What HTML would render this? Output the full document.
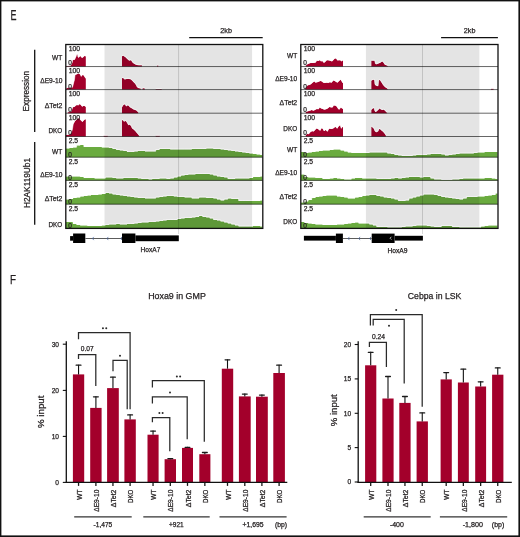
<!DOCTYPE html>
<html><head><meta charset="utf-8"><style>
html,body{margin:0;padding:0;background:#fff;}
body{width:520px;height:537px;overflow:hidden;}
svg{display:block;will-change:transform;}
text{font-family:"Liberation Sans",sans-serif;fill:#231f20;stroke:#231f20;stroke-width:0.25px;}
</style></head><body>
<svg width="520" height="537" viewBox="0 0 520 537">
<rect width="520" height="537" fill="#fff"/>
<path d="M66,66.55 L66,65.9 L70.5,65.8 L71.3,64.8 L72.3,62.5 L72.8,60 L74.8,59.8 L75.2,58.5 L76,57 L76.6,55 L77.1,54.3 L77.6,55 L78,57.3 L78.4,57.8 L79.4,57 L80.3,56 L81.2,57.2 L82.2,57.9 L83.5,57 L84.5,56 L85.5,56.3 L85.8,56.5 L85.8,66.55 Z" fill="#a3002b"/>
<path d="M122,66.55 L122,56.6 L122.4,56 L123.2,55.8 L124.3,56.6 L125.5,57.2 L126.6,58.4 L128.1,59.8 L129.2,60.7 L130.4,60.3 L131.5,60.7 L132.4,62.4 L133.8,63.6 L135.3,64.4 L136.7,65.1 L139,65.3 L141.9,65.3 L141.9,66.55 Z" fill="#a3002b"/>
<path d="M157,66.55 L157,65.6 L158.2,65.6 L158.2,66.55 Z" fill="#a3002b"/>
<path d="M66,89.6 L66,88.6 L68,87.8 L70,87.6 L72.5,87.6 L73.2,85 L74,81.8 L74.5,80 L75,75.6 L75.2,74.9 L77,74.2 L78.5,73.5 L79.8,74.2 L80.7,75.4 L81.2,76.8 L82.2,75.2 L83.3,75 L84.5,76.8 L85.4,78.2 L85.8,78.5 L85.8,89.6 Z" fill="#a3002b"/>
<path d="M122,89.6 L122,78.1 L123.5,78.3 L124.6,79.5 L125.8,79.2 L126.9,78.9 L128.7,78.9 L130.4,79.2 L131.5,80.1 L132.7,81.2 L133.8,82.4 L135,83.5 L136.2,85.3 L137,87 L137.9,87.9 L140.2,88.4 L140.8,88.8 L140.8,89.6 Z" fill="#a3002b"/>
<path d="M142.5,89.6 L142.5,88.6 L143.5,88.2 L144.8,88.6 L144.8,89.6 Z" fill="#a3002b"/>
<path d="M155.7,89.6 L155.7,89.1 L161.7,89.1 L161.7,89.6 Z" fill="#a3002b"/>
<path d="M67.8,113.2 L67.8,112.3 L71,112 L72,109.5 L72.9,107.2 L74.8,106.8 L75.9,105.6 L77.1,104.9 L78.2,105.6 L79.4,104.2 L80.3,104.4 L81.2,105.4 L82.2,106.8 L83.1,106.1 L84.5,106.1 L85.8,107 L85.8,113.2 Z" fill="#a3002b"/>
<path d="M122,113.2 L122,107.5 L122.6,106.1 L124,104.4 L125.2,104.6 L126.1,106.4 L127.5,105.5 L128.7,105.7 L129.8,107.3 L131.3,108.1 L132.7,109 L134.1,109.8 L135.3,110.1 L136.2,110.4 L137.3,111.3 L138.2,112.6 L138.2,113.2 Z" fill="#a3002b"/>
<path d="M66,136.5 L66,135 L70,134.8 L71.5,132.5 L72.5,129.2 L73.2,124.6 L74.1,122.8 L74.8,121.4 L75.7,120.5 L76.8,119.5 L77.5,118.6 L78.5,118.2 L79.4,118.4 L80.3,120 L81.5,120.9 L82.4,122.1 L83.3,120.9 L84.5,119.8 L85.8,119.3 L85.8,136.5 Z" fill="#a3002b"/>
<path d="M103.7,136.5 L103.7,135.8 L107.7,135.8 L107.7,136.5 Z" fill="#a3002b"/>
<path d="M122,136.5 L122,120 L123.2,120.6 L124,121.8 L125.2,120.9 L126.3,121.5 L127.5,123.5 L128.4,125.2 L129.5,124.7 L131,125.8 L132.1,128.4 L133.6,129.6 L135,130.7 L136.2,132.2 L137.3,133.6 L138.5,135 L139.3,136 L139.3,136.5 Z" fill="#a3002b"/>
<path d="M155.7,136.5 L155.7,135.8 L159.7,135.8 L159.7,136.5 Z" fill="#a3002b"/>
<path d="M65.8,157.2 L65.8,148.5 L69.4,148.5 L69.4,148 L73,148 L73,147.5 L76.6,147.5 L76.6,145.5 L80.2,145.5 L80.2,145 L83.8,145 L83.8,147 L87.4,147 L87.4,147 L91,147 L91,147 L94.6,147 L94.6,147 L98.2,147 L98.2,147 L101.8,147 L101.8,147.5 L105.4,147.5 L105.4,147.5 L109,147.5 L109,148 L112.6,148 L112.6,149 L116.2,149 L116.2,150 L119.8,150 L119.8,150.5 L123.4,150.5 L123.4,151 L127,151 L127,152 L130.6,152 L130.6,152 L134.2,152 L134.2,151.5 L137.8,151.5 L137.8,151 L141.4,151 L141.4,151 L145,151 L145,151.5 L148.6,151.5 L148.6,151.5 L152.2,151.5 L152.2,151.5 L155.8,151.5 L155.8,150 L159.4,150 L159.4,149 L163,149 L163,149 L166.6,149 L166.6,149 L170.2,149 L170.2,149.5 L173.8,149.5 L173.8,149.5 L177.4,149.5 L177.4,149.5 L181,149.5 L181,149.5 L184.6,149.5 L184.6,149.5 L188.2,149.5 L188.2,149.5 L191.8,149.5 L191.8,149 L195.4,149 L195.4,149 L199,149 L199,149 L202.6,149 L202.6,149 L206.2,149 L206.2,148.5 L209.8,148.5 L209.8,148.5 L213.4,148.5 L213.4,149 L217,149 L217,149 L220.6,149 L220.6,149.5 L224.2,149.5 L224.2,150 L227.8,150 L227.8,150.5 L231.4,150.5 L231.4,151 L235,151 L235,151.5 L238.6,151.5 L238.6,152 L242.2,152 L242.2,152.5 L245.8,152.5 L245.8,153 L249.4,153 L249.4,153.5 L253,153.5 L253,154 L256.6,154 L256.6,154.5 L260.2,154.5 L260.2,155 L262.2,155 L262.2,157.2 Z" fill="#6aab3f"/>
<path d="M65.8,180.4 L65.8,176.5 L69.4,176.5 L69.4,176.5 L73,176.5 L73,176.5 L76.6,176.5 L76.6,176.5 L80.2,176.5 L80.2,177 L83.8,177 L83.8,178 L87.4,178 L87.4,178 L91,178 L91,178 L94.6,178 L94.6,178.5 L98.2,178.5 L98.2,178.5 L101.8,178.5 L101.8,178.5 L105.4,178.5 L105.4,177.5 L109,177.5 L109,177.5 L112.6,177.5 L112.6,178 L116.2,178 L116.2,178.5 L119.8,178.5 L119.8,178.5 L123.4,178.5 L123.4,178 L127,178 L127,178 L130.6,178 L130.6,178 L134.2,178 L134.2,178 L137.8,178 L137.8,178.5 L141.4,178.5 L141.4,179 L145,179 L145,179 L148.6,179 L148.6,179.5 L152.2,179.5 L152.2,179 L155.8,179 L155.8,179 L159.4,179 L159.4,178.5 L163,178.5 L163,178.5 L166.6,178.5 L166.6,179 L170.2,179 L170.2,178.5 L173.8,178.5 L173.8,177.5 L177.4,177.5 L177.4,176.5 L181,176.5 L181,175.5 L184.6,175.5 L184.6,175 L188.2,175 L188.2,174.5 L191.8,174.5 L191.8,174.5 L195.4,174.5 L195.4,174 L199,174 L199,174 L202.6,174 L202.6,174 L206.2,174 L206.2,174 L209.8,174 L209.8,174.5 L213.4,174.5 L213.4,175.5 L217,175.5 L217,176.5 L220.6,176.5 L220.6,177 L224.2,177 L224.2,177.5 L227.8,177.5 L227.8,179 L231.4,179 L231.4,179 L235,179 L235,178.5 L238.6,178.5 L238.6,178.5 L242.2,178.5 L242.2,178.5 L245.8,178.5 L245.8,178.5 L249.4,178.5 L249.4,178 L253,178 L253,177 L256.6,177 L256.6,177 L260.2,177 L260.2,176.5 L262.2,176.5 L262.2,180.4 Z" fill="#6aab3f"/>
<path d="M65.8,204.2 L65.8,199.5 L69.4,199.5 L69.4,199 L73,199 L73,198 L76.6,198 L76.6,197.5 L80.2,197.5 L80.2,196.5 L83.8,196.5 L83.8,196 L87.4,196 L87.4,195.5 L91,195.5 L91,195 L94.6,195 L94.6,195 L98.2,195 L98.2,194.5 L101.8,194.5 L101.8,194 L105.4,194 L105.4,193 L109,193 L109,193.5 L112.6,193.5 L112.6,194.5 L116.2,194.5 L116.2,195 L119.8,195 L119.8,195.5 L123.4,195.5 L123.4,196 L127,196 L127,196.5 L130.6,196.5 L130.6,197 L134.2,197 L134.2,197.5 L137.8,197.5 L137.8,198 L141.4,198 L141.4,198 L145,198 L145,198.5 L148.6,198.5 L148.6,198.5 L152.2,198.5 L152.2,198.5 L155.8,198.5 L155.8,197.5 L159.4,197.5 L159.4,197 L163,197 L163,196.5 L166.6,196.5 L166.6,196 L170.2,196 L170.2,196 L173.8,196 L173.8,196.5 L177.4,196.5 L177.4,197 L181,197 L181,197 L184.6,197 L184.6,197.5 L188.2,197.5 L188.2,197.5 L191.8,197.5 L191.8,198.5 L195.4,198.5 L195.4,198.5 L199,198.5 L199,197.5 L202.6,197.5 L202.6,197.5 L206.2,197.5 L206.2,198 L209.8,198 L209.8,198 L213.4,198 L213.4,198.5 L217,198.5 L217,199.5 L220.6,199.5 L220.6,200.5 L224.2,200.5 L224.2,199.5 L227.8,199.5 L227.8,198.5 L231.4,198.5 L231.4,199 L235,199 L235,199 L238.6,199 L238.6,201 L242.2,201 L242.2,201 L245.8,201 L245.8,201 L249.4,201 L249.4,201 L253,201 L253,201 L256.6,201 L256.6,201 L260.2,201 L260.2,200.5 L262.2,200.5 L262.2,204.2 Z" fill="#6aab3f"/>
<path d="M65.8,228.4 L65.8,222 L69.4,222 L69.4,222 L73,222 L73,224 L76.6,224 L76.6,225 L80.2,225 L80.2,225.5 L83.8,225.5 L83.8,225.5 L87.4,225.5 L87.4,226 L91,226 L91,226 L94.6,226 L94.6,226 L98.2,226 L98.2,226 L101.8,226 L101.8,225.5 L105.4,225.5 L105.4,225 L109,225 L109,224.5 L112.6,224.5 L112.6,224.5 L116.2,224.5 L116.2,224 L119.8,224 L119.8,224.5 L123.4,224.5 L123.4,224.5 L127,224.5 L127,224 L130.6,224 L130.6,224 L134.2,224 L134.2,223.5 L137.8,223.5 L137.8,223 L141.4,223 L141.4,222.5 L145,222.5 L145,222.5 L148.6,222.5 L148.6,222 L152.2,222 L152.2,222 L155.8,222 L155.8,221.5 L159.4,221.5 L159.4,221 L163,221 L163,220.5 L166.6,220.5 L166.6,220 L170.2,220 L170.2,220 L173.8,220 L173.8,220 L177.4,220 L177.4,219 L181,219 L181,218.5 L184.6,218.5 L184.6,218 L188.2,218 L188.2,218 L191.8,218 L191.8,217.5 L195.4,217.5 L195.4,217 L199,217 L199,216 L202.6,216 L202.6,217 L206.2,217 L206.2,217.5 L209.8,217.5 L209.8,218.5 L213.4,218.5 L213.4,220 L217,220 L217,220.5 L220.6,220.5 L220.6,221.5 L224.2,221.5 L224.2,222.5 L227.8,222.5 L227.8,223.5 L231.4,223.5 L231.4,224.5 L235,224.5 L235,225.5 L238.6,225.5 L238.6,226.5 L242.2,226.5 L242.2,226.5 L245.8,226.5 L245.8,226.5 L249.4,226.5 L249.4,226.5 L253,226.5 L253,226 L256.6,226 L256.6,226 L260.2,226 L260.2,226.5 L262.2,226.5 L262.2,228.4 Z" fill="#6aab3f"/>
<rect x="104.5" y="44.5" width="147.6" height="183.9" fill="#000" fill-opacity="0.105"/>
<path d="M66,65.35 L70.5,65.25 L71.3,64.25 L72.3,61.95 L72.8,59.45 L74.8,59.25 L75.2,57.95 L76,56.45 L76.6,54.45 L77.1,53.75 L77.6,54.45 L78,56.75 L78.4,57.25 L79.4,56.45 L80.3,55.45 L81.2,56.65 L82.2,57.35 L83.5,56.45 L84.5,55.45 L85.5,55.75 L85.8,55.95" fill="none" stroke="#fff" stroke-opacity="0.55" stroke-width="1.0" stroke-linejoin="round"/>
<path d="M122,56.05 L122.4,55.45 L123.2,55.25 L124.3,56.05 L125.5,56.65 L126.6,57.85 L128.1,59.25 L129.2,60.15 L130.4,59.75 L131.5,60.15 L132.4,61.85 L133.8,63.05 L135.3,63.85 L136.7,64.55 L139,64.75 L141.9,64.75" fill="none" stroke="#fff" stroke-opacity="0.55" stroke-width="1.0" stroke-linejoin="round"/>
<path d="M157,65.05 L158.2,65.05" fill="none" stroke="#fff" stroke-opacity="0.55" stroke-width="1.0" stroke-linejoin="round"/>
<path d="M66,88.05 L68,87.25 L70,87.05 L72.5,87.05 L73.2,84.45 L74,81.25 L74.5,79.45 L75,75.05 L75.2,74.35 L77,73.65 L78.5,72.95 L79.8,73.65 L80.7,74.85 L81.2,76.25 L82.2,74.65 L83.3,74.45 L84.5,76.25 L85.4,77.65 L85.8,77.95" fill="none" stroke="#fff" stroke-opacity="0.55" stroke-width="1.0" stroke-linejoin="round"/>
<path d="M122,77.55 L123.5,77.75 L124.6,78.95 L125.8,78.65 L126.9,78.35 L128.7,78.35 L130.4,78.65 L131.5,79.55 L132.7,80.65 L133.8,81.85 L135,82.95 L136.2,84.75 L137,86.45 L137.9,87.35 L140.2,87.85 L140.8,88.25" fill="none" stroke="#fff" stroke-opacity="0.55" stroke-width="1.0" stroke-linejoin="round"/>
<path d="M142.5,88.05 L143.5,87.65 L144.8,88.05" fill="none" stroke="#fff" stroke-opacity="0.55" stroke-width="1.0" stroke-linejoin="round"/>
<path d="M155.7,88.55 L161.7,88.55" fill="none" stroke="#fff" stroke-opacity="0.55" stroke-width="1.0" stroke-linejoin="round"/>
<path d="M67.8,111.75 L71,111.45 L72,108.95 L72.9,106.65 L74.8,106.25 L75.9,105.05 L77.1,104.35 L78.2,105.05 L79.4,103.65 L80.3,103.85 L81.2,104.85 L82.2,106.25 L83.1,105.55 L84.5,105.55 L85.8,106.45" fill="none" stroke="#fff" stroke-opacity="0.55" stroke-width="1.0" stroke-linejoin="round"/>
<path d="M122,106.95 L122.6,105.55 L124,103.85 L125.2,104.05 L126.1,105.85 L127.5,104.95 L128.7,105.15 L129.8,106.75 L131.3,107.55 L132.7,108.45 L134.1,109.25 L135.3,109.55 L136.2,109.85 L137.3,110.75 L138.2,112.05" fill="none" stroke="#fff" stroke-opacity="0.55" stroke-width="1.0" stroke-linejoin="round"/>
<path d="M66,134.45 L70,134.25 L71.5,131.95 L72.5,128.65 L73.2,124.05 L74.1,122.25 L74.8,120.85 L75.7,119.95 L76.8,118.95 L77.5,118.05 L78.5,117.65 L79.4,117.85 L80.3,119.45 L81.5,120.35 L82.4,121.55 L83.3,120.35 L84.5,119.25 L85.8,118.75" fill="none" stroke="#fff" stroke-opacity="0.55" stroke-width="1.0" stroke-linejoin="round"/>
<path d="M103.7,135.25 L107.7,135.25" fill="none" stroke="#fff" stroke-opacity="0.55" stroke-width="1.0" stroke-linejoin="round"/>
<path d="M122,119.45 L123.2,120.05 L124,121.25 L125.2,120.35 L126.3,120.95 L127.5,122.95 L128.4,124.65 L129.5,124.15 L131,125.25 L132.1,127.85 L133.6,129.05 L135,130.15 L136.2,131.65 L137.3,133.05 L138.5,134.45 L139.3,135.45" fill="none" stroke="#fff" stroke-opacity="0.55" stroke-width="1.0" stroke-linejoin="round"/>
<path d="M155.7,135.25 L159.7,135.25" fill="none" stroke="#fff" stroke-opacity="0.55" stroke-width="1.0" stroke-linejoin="round"/>
<path d="M65.8,147.95 L69.4,147.95 L69.4,147.45 L73,147.45 L73,146.95 L76.6,146.95 L76.6,144.95 L80.2,144.95 L80.2,144.45 L83.8,144.45 L83.8,146.45 L87.4,146.45 L87.4,146.45 L91,146.45 L91,146.45 L94.6,146.45 L94.6,146.45 L98.2,146.45 L98.2,146.45 L101.8,146.45 L101.8,146.95 L105.4,146.95 L105.4,146.95 L109,146.95 L109,147.45 L112.6,147.45 L112.6,148.45 L116.2,148.45 L116.2,149.45 L119.8,149.45 L119.8,149.95 L123.4,149.95 L123.4,150.45 L127,150.45 L127,151.45 L130.6,151.45 L130.6,151.45 L134.2,151.45 L134.2,150.95 L137.8,150.95 L137.8,150.45 L141.4,150.45 L141.4,150.45 L145,150.45 L145,150.95 L148.6,150.95 L148.6,150.95 L152.2,150.95 L152.2,150.95 L155.8,150.95 L155.8,149.45 L159.4,149.45 L159.4,148.45 L163,148.45 L163,148.45 L166.6,148.45 L166.6,148.45 L170.2,148.45 L170.2,148.95 L173.8,148.95 L173.8,148.95 L177.4,148.95 L177.4,148.95 L181,148.95 L181,148.95 L184.6,148.95 L184.6,148.95 L188.2,148.95 L188.2,148.95 L191.8,148.95 L191.8,148.45 L195.4,148.45 L195.4,148.45 L199,148.45 L199,148.45 L202.6,148.45 L202.6,148.45 L206.2,148.45 L206.2,147.95 L209.8,147.95 L209.8,147.95 L213.4,147.95 L213.4,148.45 L217,148.45 L217,148.45 L220.6,148.45 L220.6,148.95 L224.2,148.95 L224.2,149.45 L227.8,149.45 L227.8,149.95 L231.4,149.95 L231.4,150.45 L235,150.45 L235,150.95 L238.6,150.95 L238.6,151.45 L242.2,151.45 L242.2,151.95 L245.8,151.95 L245.8,152.45 L249.4,152.45 L249.4,152.95 L253,152.95 L253,153.45 L256.6,153.45 L256.6,153.95 L260.2,153.95 L260.2,154.45 L262.2,154.45" fill="none" stroke="#fff" stroke-opacity="0.55" stroke-width="1.0" stroke-linejoin="round"/>
<path d="M65.8,175.95 L69.4,175.95 L69.4,175.95 L73,175.95 L73,175.95 L76.6,175.95 L76.6,175.95 L80.2,175.95 L80.2,176.45 L83.8,176.45 L83.8,177.45 L87.4,177.45 L87.4,177.45 L91,177.45 L91,177.45 L94.6,177.45 L94.6,177.95 L98.2,177.95 L98.2,177.95 L101.8,177.95 L101.8,177.95 L105.4,177.95 L105.4,176.95 L109,176.95 L109,176.95 L112.6,176.95 L112.6,177.45 L116.2,177.45 L116.2,177.95 L119.8,177.95 L119.8,177.95 L123.4,177.95 L123.4,177.45 L127,177.45 L127,177.45 L130.6,177.45 L130.6,177.45 L134.2,177.45 L134.2,177.45 L137.8,177.45 L137.8,177.95 L141.4,177.95 L141.4,178.45 L145,178.45 L145,178.45 L148.6,178.45 L148.6,178.95 L152.2,178.95 L152.2,178.45 L155.8,178.45 L155.8,178.45 L159.4,178.45 L159.4,177.95 L163,177.95 L163,177.95 L166.6,177.95 L166.6,178.45 L170.2,178.45 L170.2,177.95 L173.8,177.95 L173.8,176.95 L177.4,176.95 L177.4,175.95 L181,175.95 L181,174.95 L184.6,174.95 L184.6,174.45 L188.2,174.45 L188.2,173.95 L191.8,173.95 L191.8,173.95 L195.4,173.95 L195.4,173.45 L199,173.45 L199,173.45 L202.6,173.45 L202.6,173.45 L206.2,173.45 L206.2,173.45 L209.8,173.45 L209.8,173.95 L213.4,173.95 L213.4,174.95 L217,174.95 L217,175.95 L220.6,175.95 L220.6,176.45 L224.2,176.45 L224.2,176.95 L227.8,176.95 L227.8,178.45 L231.4,178.45 L231.4,178.45 L235,178.45 L235,177.95 L238.6,177.95 L238.6,177.95 L242.2,177.95 L242.2,177.95 L245.8,177.95 L245.8,177.95 L249.4,177.95 L249.4,177.45 L253,177.45 L253,176.45 L256.6,176.45 L256.6,176.45 L260.2,176.45 L260.2,175.95 L262.2,175.95" fill="none" stroke="#fff" stroke-opacity="0.55" stroke-width="1.0" stroke-linejoin="round"/>
<path d="M65.8,198.95 L69.4,198.95 L69.4,198.45 L73,198.45 L73,197.45 L76.6,197.45 L76.6,196.95 L80.2,196.95 L80.2,195.95 L83.8,195.95 L83.8,195.45 L87.4,195.45 L87.4,194.95 L91,194.95 L91,194.45 L94.6,194.45 L94.6,194.45 L98.2,194.45 L98.2,193.95 L101.8,193.95 L101.8,193.45 L105.4,193.45 L105.4,192.45 L109,192.45 L109,192.95 L112.6,192.95 L112.6,193.95 L116.2,193.95 L116.2,194.45 L119.8,194.45 L119.8,194.95 L123.4,194.95 L123.4,195.45 L127,195.45 L127,195.95 L130.6,195.95 L130.6,196.45 L134.2,196.45 L134.2,196.95 L137.8,196.95 L137.8,197.45 L141.4,197.45 L141.4,197.45 L145,197.45 L145,197.95 L148.6,197.95 L148.6,197.95 L152.2,197.95 L152.2,197.95 L155.8,197.95 L155.8,196.95 L159.4,196.95 L159.4,196.45 L163,196.45 L163,195.95 L166.6,195.95 L166.6,195.45 L170.2,195.45 L170.2,195.45 L173.8,195.45 L173.8,195.95 L177.4,195.95 L177.4,196.45 L181,196.45 L181,196.45 L184.6,196.45 L184.6,196.95 L188.2,196.95 L188.2,196.95 L191.8,196.95 L191.8,197.95 L195.4,197.95 L195.4,197.95 L199,197.95 L199,196.95 L202.6,196.95 L202.6,196.95 L206.2,196.95 L206.2,197.45 L209.8,197.45 L209.8,197.45 L213.4,197.45 L213.4,197.95 L217,197.95 L217,198.95 L220.6,198.95 L220.6,199.95 L224.2,199.95 L224.2,198.95 L227.8,198.95 L227.8,197.95 L231.4,197.95 L231.4,198.45 L235,198.45 L235,198.45 L238.6,198.45 L238.6,200.45 L242.2,200.45 L242.2,200.45 L245.8,200.45 L245.8,200.45 L249.4,200.45 L249.4,200.45 L253,200.45 L253,200.45 L256.6,200.45 L256.6,200.45 L260.2,200.45 L260.2,199.95 L262.2,199.95" fill="none" stroke="#fff" stroke-opacity="0.55" stroke-width="1.0" stroke-linejoin="round"/>
<path d="M65.8,221.45 L69.4,221.45 L69.4,221.45 L73,221.45 L73,223.45 L76.6,223.45 L76.6,224.45 L80.2,224.45 L80.2,224.95 L83.8,224.95 L83.8,224.95 L87.4,224.95 L87.4,225.45 L91,225.45 L91,225.45 L94.6,225.45 L94.6,225.45 L98.2,225.45 L98.2,225.45 L101.8,225.45 L101.8,224.95 L105.4,224.95 L105.4,224.45 L109,224.45 L109,223.95 L112.6,223.95 L112.6,223.95 L116.2,223.95 L116.2,223.45 L119.8,223.45 L119.8,223.95 L123.4,223.95 L123.4,223.95 L127,223.95 L127,223.45 L130.6,223.45 L130.6,223.45 L134.2,223.45 L134.2,222.95 L137.8,222.95 L137.8,222.45 L141.4,222.45 L141.4,221.95 L145,221.95 L145,221.95 L148.6,221.95 L148.6,221.45 L152.2,221.45 L152.2,221.45 L155.8,221.45 L155.8,220.95 L159.4,220.95 L159.4,220.45 L163,220.45 L163,219.95 L166.6,219.95 L166.6,219.45 L170.2,219.45 L170.2,219.45 L173.8,219.45 L173.8,219.45 L177.4,219.45 L177.4,218.45 L181,218.45 L181,217.95 L184.6,217.95 L184.6,217.45 L188.2,217.45 L188.2,217.45 L191.8,217.45 L191.8,216.95 L195.4,216.95 L195.4,216.45 L199,216.45 L199,215.45 L202.6,215.45 L202.6,216.45 L206.2,216.45 L206.2,216.95 L209.8,216.95 L209.8,217.95 L213.4,217.95 L213.4,219.45 L217,219.45 L217,219.95 L220.6,219.95 L220.6,220.95 L224.2,220.95 L224.2,221.95 L227.8,221.95 L227.8,222.95 L231.4,222.95 L231.4,223.95 L235,223.95 L235,224.95 L238.6,224.95 L238.6,225.95 L242.2,225.95 L242.2,225.95 L245.8,225.95 L245.8,225.95 L249.4,225.95 L249.4,225.95 L253,225.95 L253,225.45 L256.6,225.45 L256.6,225.45 L260.2,225.45 L260.2,225.95 L262.2,225.95" fill="none" stroke="#fff" stroke-opacity="0.55" stroke-width="1.0" stroke-linejoin="round"/>
<line x1="178.6" y1="44.5" x2="178.6" y2="234" stroke="#000" stroke-width="1" stroke-opacity="0.15"/>
<line x1="65.8" y1="66.55" x2="262.8" y2="66.55" stroke="#000" stroke-width="1" stroke-opacity="0.6"/>
<line x1="65.8" y1="89.6" x2="262.8" y2="89.6" stroke="#000" stroke-width="1" stroke-opacity="0.6"/>
<line x1="65.8" y1="113.2" x2="262.8" y2="113.2" stroke="#000" stroke-width="1" stroke-opacity="0.6"/>
<line x1="65.8" y1="136.5" x2="262.8" y2="136.5" stroke="#000" stroke-width="1" stroke-opacity="0.6"/>
<line x1="65.8" y1="157.2" x2="262.8" y2="157.2" stroke="#000" stroke-width="1" stroke-opacity="0.6"/>
<line x1="65.8" y1="180.4" x2="262.8" y2="180.4" stroke="#000" stroke-width="1" stroke-opacity="0.6"/>
<line x1="65.8" y1="204.2" x2="262.8" y2="204.2" stroke="#000" stroke-width="1" stroke-opacity="0.6"/>
<rect x="65.8" y="44.5" width="197" height="183.9" fill="none" stroke="#111" stroke-width="1.3"/>
<text x="68.7" y="50.8" font-size="6.5" textLength="11.4" lengthAdjust="spacingAndGlyphs">100</text>
<text x="68.3" y="65.45" font-size="6.5">0</text>
<text x="68.7" y="72.85" font-size="6.5" textLength="11.4" lengthAdjust="spacingAndGlyphs">100</text>
<text x="68.3" y="88.5" font-size="6.5">0</text>
<text x="68.7" y="95.9" font-size="6.5" textLength="11.4" lengthAdjust="spacingAndGlyphs">100</text>
<text x="68.3" y="112.1" font-size="6.5">0</text>
<text x="68.7" y="119.5" font-size="6.5" textLength="11.4" lengthAdjust="spacingAndGlyphs">100</text>
<text x="68.3" y="135.4" font-size="6.5">0</text>
<text x="68.7" y="142.8" font-size="6.5" textLength="9.4" lengthAdjust="spacingAndGlyphs">2.5</text>
<text x="68.3" y="157" font-size="6.5">0</text>
<text x="68.7" y="163.5" font-size="6.5" textLength="9.4" lengthAdjust="spacingAndGlyphs">2.5</text>
<text x="68.3" y="180.2" font-size="6.5">0</text>
<text x="68.7" y="186.7" font-size="6.5" textLength="9.4" lengthAdjust="spacingAndGlyphs">2.5</text>
<text x="68.3" y="204" font-size="6.5">0</text>
<text x="68.7" y="210.5" font-size="6.5" textLength="9.4" lengthAdjust="spacingAndGlyphs">2.5</text>
<text x="68.3" y="228.2" font-size="6.5">0</text>
<text x="62.3" y="60.1" font-size="6.7" text-anchor="end" textLength="10.2" lengthAdjust="spacingAndGlyphs">WT</text>
<text x="62.3" y="82.8" font-size="6.7" text-anchor="end" textLength="22" lengthAdjust="spacingAndGlyphs">&#916;E9-10</text>
<text x="62.3" y="107.6" font-size="6.7" text-anchor="end" textLength="17.6" lengthAdjust="spacingAndGlyphs">&#916;Tet2</text>
<text x="62.3" y="132.7" font-size="6.7" text-anchor="end" textLength="13.9" lengthAdjust="spacingAndGlyphs">DKO</text>
<text x="62.3" y="153.7" font-size="6.7" text-anchor="end" textLength="10.2" lengthAdjust="spacingAndGlyphs">WT</text>
<text x="62.3" y="176.9" font-size="6.7" text-anchor="end" textLength="22" lengthAdjust="spacingAndGlyphs">&#916;E9-10</text>
<text x="62.3" y="201.2" font-size="6.7" text-anchor="end" textLength="17.6" lengthAdjust="spacingAndGlyphs">&#916;Tet2</text>
<text x="62.3" y="226.6" font-size="6.7" text-anchor="end" textLength="13.9" lengthAdjust="spacingAndGlyphs">DKO</text>
<path d="M305.8,66.55 L305.8,65.7 L307.1,64.4 L308.8,63.7 L310.5,63.1 L313,62.9 L315.5,62.7 L316.8,60.8 L318.5,61 L319.8,60.2 L321,61.4 L322.3,61 L323.6,62.7 L324.8,62.5 L326.5,60.6 L327.8,60.2 L329,60.6 L330.8,61 L332,61.4 L333.3,60.2 L334.6,58.7 L335.8,58.5 L336.7,59.3 L337.5,60.6 L339.2,60.2 L340.5,60.6 L341.8,61.4 L342.6,60.6 L343,60.6 L343,66.55 Z" fill="#a3002b"/>
<path d="M371.4,66.55 L371.4,60.7 L374.7,60.7 L375.4,64.1 L376.7,64.3 L378.7,63.4 L380.4,62.7 L382.1,61.4 L383.4,62.4 L384.8,64.7 L386.8,65.4 L387.8,66 L387.8,66.55 Z" fill="#a3002b"/>
<path d="M305.4,89.6 L305.4,88.2 L306.7,86.5 L307.9,85.2 L309.6,85.1 L311.3,84 L312.6,82.7 L314.3,81.4 L315.5,82.7 L317.2,82.3 L318.9,81.8 L320.2,81 L321.9,81.4 L323.2,82.7 L324.8,83.1 L327,82.7 L328.2,83.1 L329.9,82.3 L331.6,82.7 L333.3,80.6 L334.6,81 L335.8,81.8 L337.5,82.7 L339.2,81 L340.5,79.7 L341.8,81.4 L342.6,83.1 L343,83.1 L343,89.6 Z" fill="#a3002b"/>
<path d="M371.4,89.6 L371.4,80.8 L373,79.8 L374.4,80.1 L375,84.9 L376.7,85.9 L378.1,86.2 L378.7,80.8 L379.7,79.8 L381.4,82.2 L383.1,84.9 L384.8,86.9 L386.8,88.2 L387.8,89.2 L387.8,89.6 Z" fill="#a3002b"/>
<path d="M491,89.6 L491,88.8 L493.5,88.8 L493.5,89.6 Z" fill="#a3002b"/>
<path d="M305.8,113.2 L305.8,112.2 L307.9,111.3 L310,110.8 L311.7,110.1 L313.4,110.8 L315.1,109.9 L316.8,109.1 L318.5,109.3 L319.8,107.5 L321,108.4 L322.7,109.1 L324.4,109.7 L326.1,109.3 L327.8,108.4 L329.5,107.1 L331.2,107.5 L332.5,107.5 L333.7,105.4 L335.4,105.8 L336.7,106.5 L338,108.8 L339.2,109.7 L340.9,107.5 L342.2,108.8 L343,108.8 L343,113.2 Z" fill="#a3002b"/>
<path d="M371.4,113.2 L371.4,110.1 L372.7,108.4 L374,108.1 L374.7,110.7 L375.4,112.1 L376.7,111.4 L378.7,109.4 L379.7,108.4 L380.8,109.4 L382.1,110.1 L383.8,109.7 L385.1,110.7 L386.1,112.1 L387.1,112.8 L387.1,113.2 Z" fill="#a3002b"/>
<path d="M305.8,136.5 L305.8,135.5 L307.1,133.8 L308.8,134.2 L310.5,132.1 L312.2,131.2 L313.8,131.6 L315.5,129.5 L316.8,128.5 L318.5,129.5 L320.2,130.8 L321.5,128.3 L322.7,128.7 L324,131.2 L325.7,130 L327.4,131.7 L329.1,128.7 L331.2,129.1 L332.9,128.7 L334.6,127.4 L335.8,127 L337.1,128.7 L338.8,126.2 L340.1,125.3 L341.3,128.7 L342.4,127 L343,127 L343,136.5 Z" fill="#a3002b"/>
<path d="M371.4,136.5 L371.4,126.8 L372.7,127.5 L374,128.9 L375,131.5 L376.4,132.2 L378.1,131.5 L379.1,128.9 L380.1,129.3 L381.4,130.5 L382.8,131.5 L384.1,132.9 L385.1,134.2 L385.8,135.5 L385.8,136.5 Z" fill="#a3002b"/>
<path d="M301,157.2 L301,152 L304.6,152 L304.6,153 L308.2,153 L308.2,152.5 L311.8,152.5 L311.8,152 L315.4,152 L315.4,151.5 L319,151.5 L319,151 L322.6,151 L322.6,150.5 L326.2,150.5 L326.2,150.5 L329.8,150.5 L329.8,150 L333.4,150 L333.4,149.5 L337,149.5 L337,149.5 L340.6,149.5 L340.6,150.5 L344.2,150.5 L344.2,151.5 L347.8,151.5 L347.8,152.5 L351.4,152.5 L351.4,153 L355,153 L355,153 L358.6,153 L358.6,153 L362.2,153 L362.2,153 L365.8,153 L365.8,153 L369.4,153 L369.4,152.5 L373,152.5 L373,152.5 L376.6,152.5 L376.6,152.5 L380.2,152.5 L380.2,152.5 L383.8,152.5 L383.8,152.5 L387.4,152.5 L387.4,153.5 L391,153.5 L391,154 L394.6,154 L394.6,155 L398.2,155 L398.2,155.5 L401.8,155.5 L401.8,156 L405.4,156 L405.4,156 L409,156 L409,156 L412.6,156 L412.6,155.5 L416.2,155.5 L416.2,155 L419.8,155 L419.8,155 L423.4,155 L423.4,155 L427,155 L427,154.5 L430.6,154.5 L430.6,154 L434.2,154 L434.2,154 L437.8,154 L437.8,154 L441.4,154 L441.4,154.5 L445,154.5 L445,155.5 L448.6,155.5 L448.6,155 L452.2,155 L452.2,154.5 L455.8,154.5 L455.8,154 L459.4,154 L459.4,153.5 L463,153.5 L463,153.5 L466.6,153.5 L466.6,153.5 L470.2,153.5 L470.2,153.5 L473.8,153.5 L473.8,153 L477.4,153 L477.4,152.5 L481,152.5 L481,152.5 L484.6,152.5 L484.6,152 L488.2,152 L488.2,152 L491.8,152 L491.8,152 L495.4,152 L495.4,152 L497.6,152 L497.6,157.2 Z" fill="#6aab3f"/>
<path d="M301,180.4 L301,174.5 L304.6,174.5 L304.6,177 L308.2,177 L308.2,177.5 L311.8,177.5 L311.8,177.5 L315.4,177.5 L315.4,178 L319,178 L319,178 L322.6,178 L322.6,179 L326.2,179 L326.2,179 L329.8,179 L329.8,178.5 L333.4,178.5 L333.4,178 L337,178 L337,178.5 L340.6,178.5 L340.6,179 L344.2,179 L344.2,179.5 L347.8,179.5 L347.8,179.5 L351.4,179.5 L351.4,178.5 L355,178.5 L355,178 L358.6,178 L358.6,178 L362.2,178 L362.2,178.5 L365.8,178.5 L365.8,178.5 L369.4,178.5 L369.4,178.5 L373,178.5 L373,178.5 L376.6,178.5 L376.6,179 L380.2,179 L380.2,179 L383.8,179 L383.8,179 L387.4,179 L387.4,179 L391,179 L391,178.5 L394.6,178.5 L394.6,178 L398.2,178 L398.2,178.5 L401.8,178.5 L401.8,178 L405.4,178 L405.4,177.5 L409,177.5 L409,177 L412.6,177 L412.6,177 L416.2,177 L416.2,177 L419.8,177 L419.8,177.5 L423.4,177.5 L423.4,177 L427,177 L427,177 L430.6,177 L430.6,178.5 L434.2,178.5 L434.2,179.5 L437.8,179.5 L437.8,179.5 L441.4,179.5 L441.4,180 L445,180 L445,180 L448.6,180 L448.6,180 L452.2,180 L452.2,179.5 L455.8,179.5 L455.8,179.5 L459.4,179.5 L459.4,179 L463,179 L463,178.5 L466.6,178.5 L466.6,178.5 L470.2,178.5 L470.2,178.5 L473.8,178.5 L473.8,178.5 L477.4,178.5 L477.4,178.5 L481,178.5 L481,178.5 L484.6,178.5 L484.6,178 L488.2,178 L488.2,178 L491.8,178 L491.8,178.5 L495.4,178.5 L495.4,179 L497.6,179 L497.6,180.4 Z" fill="#6aab3f"/>
<path d="M301,204.2 L301,202.5 L304.6,202.5 L304.6,201.5 L308.2,201.5 L308.2,200 L311.8,200 L311.8,198 L315.4,198 L315.4,197 L319,197 L319,196.5 L322.6,196.5 L322.6,196 L326.2,196 L326.2,195.5 L329.8,195.5 L329.8,195.5 L333.4,195.5 L333.4,195.5 L337,195.5 L337,196.5 L340.6,196.5 L340.6,197 L344.2,197 L344.2,197.5 L347.8,197.5 L347.8,198.5 L351.4,198.5 L351.4,198.5 L355,198.5 L355,197.5 L358.6,197.5 L358.6,197 L362.2,197 L362.2,196 L365.8,196 L365.8,195.5 L369.4,195.5 L369.4,195 L373,195 L373,195 L376.6,195 L376.6,196 L380.2,196 L380.2,196.5 L383.8,196.5 L383.8,197.5 L387.4,197.5 L387.4,198 L391,198 L391,198.5 L394.6,198.5 L394.6,199.5 L398.2,199.5 L398.2,201 L401.8,201 L401.8,201 L405.4,201 L405.4,200.5 L409,200.5 L409,198.5 L412.6,198.5 L412.6,197.5 L416.2,197.5 L416.2,196.5 L419.8,196.5 L419.8,195.5 L423.4,195.5 L423.4,194.5 L427,194.5 L427,194.5 L430.6,194.5 L430.6,194.5 L434.2,194.5 L434.2,195 L437.8,195 L437.8,196 L441.4,196 L441.4,197 L445,197 L445,197.5 L448.6,197.5 L448.6,198 L452.2,198 L452.2,198.5 L455.8,198.5 L455.8,199 L459.4,199 L459.4,199.5 L463,199.5 L463,198.5 L466.6,198.5 L466.6,197 L470.2,197 L470.2,197 L473.8,197 L473.8,197 L477.4,197 L477.4,196.5 L481,196.5 L481,196.5 L484.6,196.5 L484.6,196 L488.2,196 L488.2,195.5 L491.8,195.5 L491.8,195 L495.4,195 L495.4,193.5 L497.6,193.5 L497.6,204.2 Z" fill="#6aab3f"/>
<path d="M301,228.4 L301,222 L304.6,222 L304.6,223 L308.2,223 L308.2,223.5 L311.8,223.5 L311.8,224 L315.4,224 L315.4,224.5 L319,224.5 L319,224.5 L322.6,224.5 L322.6,225 L326.2,225 L326.2,225 L329.8,225 L329.8,225 L333.4,225 L333.4,225 L337,225 L337,224.5 L340.6,224.5 L340.6,224.5 L344.2,224.5 L344.2,224 L347.8,224 L347.8,223.5 L351.4,223.5 L351.4,223 L355,223 L355,222.5 L358.6,222.5 L358.6,223.5 L362.2,223.5 L362.2,223.5 L365.8,223.5 L365.8,223.5 L369.4,223.5 L369.4,224.5 L373,224.5 L373,225.5 L376.6,225.5 L376.6,227 L380.2,227 L380.2,227 L383.8,227 L383.8,227 L387.4,227 L387.4,227.5 L391,227.5 L391,227.5 L394.6,227.5 L394.6,227.5 L398.2,227.5 L398.2,227.5 L401.8,227.5 L401.8,227 L405.4,227 L405.4,226.5 L409,226.5 L409,226.5 L412.6,226.5 L412.6,226 L416.2,226 L416.2,225.5 L419.8,225.5 L419.8,225.5 L423.4,225.5 L423.4,225.5 L427,225.5 L427,226 L430.6,226 L430.6,226.5 L434.2,226.5 L434.2,227 L437.8,227 L437.8,227 L441.4,227 L441.4,226 L445,226 L445,226 L448.6,226 L448.6,226 L452.2,226 L452.2,227 L455.8,227 L455.8,227 L459.4,227 L459.4,227.5 L463,227.5 L463,227.5 L466.6,227.5 L466.6,227.5 L470.2,227.5 L470.2,227.5 L473.8,227.5 L473.8,227.5 L477.4,227.5 L477.4,227.5 L481,227.5 L481,226.5 L484.6,226.5 L484.6,226 L488.2,226 L488.2,225.5 L491.8,225.5 L491.8,225.5 L495.4,225.5 L495.4,225.5 L497.6,225.5 L497.6,228.4 Z" fill="#6aab3f"/>
<rect x="365.9" y="44.5" width="113.5" height="183.9" fill="#000" fill-opacity="0.105"/>
<path d="M305.8,65.15 L307.1,63.85 L308.8,63.15 L310.5,62.55 L313,62.35 L315.5,62.15 L316.8,60.25 L318.5,60.45 L319.8,59.65 L321,60.85 L322.3,60.45 L323.6,62.15 L324.8,61.95 L326.5,60.05 L327.8,59.65 L329,60.05 L330.8,60.45 L332,60.85 L333.3,59.65 L334.6,58.15 L335.8,57.95 L336.7,58.75 L337.5,60.05 L339.2,59.65 L340.5,60.05 L341.8,60.85 L342.6,60.05 L343,60.05" fill="none" stroke="#fff" stroke-opacity="0.55" stroke-width="1.0" stroke-linejoin="round"/>
<path d="M371.4,60.15 L374.7,60.15 L375.4,63.55 L376.7,63.75 L378.7,62.85 L380.4,62.15 L382.1,60.85 L383.4,61.85 L384.8,64.15 L386.8,64.85 L387.8,65.45" fill="none" stroke="#fff" stroke-opacity="0.55" stroke-width="1.0" stroke-linejoin="round"/>
<path d="M305.4,87.65 L306.7,85.95 L307.9,84.65 L309.6,84.55 L311.3,83.45 L312.6,82.15 L314.3,80.85 L315.5,82.15 L317.2,81.75 L318.9,81.25 L320.2,80.45 L321.9,80.85 L323.2,82.15 L324.8,82.55 L327,82.15 L328.2,82.55 L329.9,81.75 L331.6,82.15 L333.3,80.05 L334.6,80.45 L335.8,81.25 L337.5,82.15 L339.2,80.45 L340.5,79.15 L341.8,80.85 L342.6,82.55 L343,82.55" fill="none" stroke="#fff" stroke-opacity="0.55" stroke-width="1.0" stroke-linejoin="round"/>
<path d="M371.4,80.25 L373,79.25 L374.4,79.55 L375,84.35 L376.7,85.35 L378.1,85.65 L378.7,80.25 L379.7,79.25 L381.4,81.65 L383.1,84.35 L384.8,86.35 L386.8,87.65 L387.8,88.65" fill="none" stroke="#fff" stroke-opacity="0.55" stroke-width="1.0" stroke-linejoin="round"/>
<path d="M491,88.25 L493.5,88.25" fill="none" stroke="#fff" stroke-opacity="0.55" stroke-width="1.0" stroke-linejoin="round"/>
<path d="M305.8,111.65 L307.9,110.75 L310,110.25 L311.7,109.55 L313.4,110.25 L315.1,109.35 L316.8,108.55 L318.5,108.75 L319.8,106.95 L321,107.85 L322.7,108.55 L324.4,109.15 L326.1,108.75 L327.8,107.85 L329.5,106.55 L331.2,106.95 L332.5,106.95 L333.7,104.85 L335.4,105.25 L336.7,105.95 L338,108.25 L339.2,109.15 L340.9,106.95 L342.2,108.25 L343,108.25" fill="none" stroke="#fff" stroke-opacity="0.55" stroke-width="1.0" stroke-linejoin="round"/>
<path d="M371.4,109.55 L372.7,107.85 L374,107.55 L374.7,110.15 L375.4,111.55 L376.7,110.85 L378.7,108.85 L379.7,107.85 L380.8,108.85 L382.1,109.55 L383.8,109.15 L385.1,110.15 L386.1,111.55 L387.1,112.25" fill="none" stroke="#fff" stroke-opacity="0.55" stroke-width="1.0" stroke-linejoin="round"/>
<path d="M305.8,134.95 L307.1,133.25 L308.8,133.65 L310.5,131.55 L312.2,130.65 L313.8,131.05 L315.5,128.95 L316.8,127.95 L318.5,128.95 L320.2,130.25 L321.5,127.75 L322.7,128.15 L324,130.65 L325.7,129.45 L327.4,131.15 L329.1,128.15 L331.2,128.55 L332.9,128.15 L334.6,126.85 L335.8,126.45 L337.1,128.15 L338.8,125.65 L340.1,124.75 L341.3,128.15 L342.4,126.45 L343,126.45" fill="none" stroke="#fff" stroke-opacity="0.55" stroke-width="1.0" stroke-linejoin="round"/>
<path d="M371.4,126.25 L372.7,126.95 L374,128.35 L375,130.95 L376.4,131.65 L378.1,130.95 L379.1,128.35 L380.1,128.75 L381.4,129.95 L382.8,130.95 L384.1,132.35 L385.1,133.65 L385.8,134.95" fill="none" stroke="#fff" stroke-opacity="0.55" stroke-width="1.0" stroke-linejoin="round"/>
<path d="M301,151.45 L304.6,151.45 L304.6,152.45 L308.2,152.45 L308.2,151.95 L311.8,151.95 L311.8,151.45 L315.4,151.45 L315.4,150.95 L319,150.95 L319,150.45 L322.6,150.45 L322.6,149.95 L326.2,149.95 L326.2,149.95 L329.8,149.95 L329.8,149.45 L333.4,149.45 L333.4,148.95 L337,148.95 L337,148.95 L340.6,148.95 L340.6,149.95 L344.2,149.95 L344.2,150.95 L347.8,150.95 L347.8,151.95 L351.4,151.95 L351.4,152.45 L355,152.45 L355,152.45 L358.6,152.45 L358.6,152.45 L362.2,152.45 L362.2,152.45 L365.8,152.45 L365.8,152.45 L369.4,152.45 L369.4,151.95 L373,151.95 L373,151.95 L376.6,151.95 L376.6,151.95 L380.2,151.95 L380.2,151.95 L383.8,151.95 L383.8,151.95 L387.4,151.95 L387.4,152.95 L391,152.95 L391,153.45 L394.6,153.45 L394.6,154.45 L398.2,154.45 L398.2,154.95 L401.8,154.95 L401.8,155.45 L405.4,155.45 L405.4,155.45 L409,155.45 L409,155.45 L412.6,155.45 L412.6,154.95 L416.2,154.95 L416.2,154.45 L419.8,154.45 L419.8,154.45 L423.4,154.45 L423.4,154.45 L427,154.45 L427,153.95 L430.6,153.95 L430.6,153.45 L434.2,153.45 L434.2,153.45 L437.8,153.45 L437.8,153.45 L441.4,153.45 L441.4,153.95 L445,153.95 L445,154.95 L448.6,154.95 L448.6,154.45 L452.2,154.45 L452.2,153.95 L455.8,153.95 L455.8,153.45 L459.4,153.45 L459.4,152.95 L463,152.95 L463,152.95 L466.6,152.95 L466.6,152.95 L470.2,152.95 L470.2,152.95 L473.8,152.95 L473.8,152.45 L477.4,152.45 L477.4,151.95 L481,151.95 L481,151.95 L484.6,151.95 L484.6,151.45 L488.2,151.45 L488.2,151.45 L491.8,151.45 L491.8,151.45 L495.4,151.45 L495.4,151.45 L497.6,151.45" fill="none" stroke="#fff" stroke-opacity="0.55" stroke-width="1.0" stroke-linejoin="round"/>
<path d="M301,173.95 L304.6,173.95 L304.6,176.45 L308.2,176.45 L308.2,176.95 L311.8,176.95 L311.8,176.95 L315.4,176.95 L315.4,177.45 L319,177.45 L319,177.45 L322.6,177.45 L322.6,178.45 L326.2,178.45 L326.2,178.45 L329.8,178.45 L329.8,177.95 L333.4,177.95 L333.4,177.45 L337,177.45 L337,177.95 L340.6,177.95 L340.6,178.45 L344.2,178.45 L344.2,178.95 L347.8,178.95 L347.8,178.95 L351.4,178.95 L351.4,177.95 L355,177.95 L355,177.45 L358.6,177.45 L358.6,177.45 L362.2,177.45 L362.2,177.95 L365.8,177.95 L365.8,177.95 L369.4,177.95 L369.4,177.95 L373,177.95 L373,177.95 L376.6,177.95 L376.6,178.45 L380.2,178.45 L380.2,178.45 L383.8,178.45 L383.8,178.45 L387.4,178.45 L387.4,178.45 L391,178.45 L391,177.95 L394.6,177.95 L394.6,177.45 L398.2,177.45 L398.2,177.95 L401.8,177.95 L401.8,177.45 L405.4,177.45 L405.4,176.95 L409,176.95 L409,176.45 L412.6,176.45 L412.6,176.45 L416.2,176.45 L416.2,176.45 L419.8,176.45 L419.8,176.95 L423.4,176.95 L423.4,176.45 L427,176.45 L427,176.45 L430.6,176.45 L430.6,177.95 L434.2,177.95 L434.2,178.95 L437.8,178.95 L437.8,178.95 L441.4,178.95 L441.4,179.45 L445,179.45 L445,179.45 L448.6,179.45 L448.6,179.45 L452.2,179.45 L452.2,178.95 L455.8,178.95 L455.8,178.95 L459.4,178.95 L459.4,178.45 L463,178.45 L463,177.95 L466.6,177.95 L466.6,177.95 L470.2,177.95 L470.2,177.95 L473.8,177.95 L473.8,177.95 L477.4,177.95 L477.4,177.95 L481,177.95 L481,177.95 L484.6,177.95 L484.6,177.45 L488.2,177.45 L488.2,177.45 L491.8,177.45 L491.8,177.95 L495.4,177.95 L495.4,178.45 L497.6,178.45" fill="none" stroke="#fff" stroke-opacity="0.55" stroke-width="1.0" stroke-linejoin="round"/>
<path d="M301,201.95 L304.6,201.95 L304.6,200.95 L308.2,200.95 L308.2,199.45 L311.8,199.45 L311.8,197.45 L315.4,197.45 L315.4,196.45 L319,196.45 L319,195.95 L322.6,195.95 L322.6,195.45 L326.2,195.45 L326.2,194.95 L329.8,194.95 L329.8,194.95 L333.4,194.95 L333.4,194.95 L337,194.95 L337,195.95 L340.6,195.95 L340.6,196.45 L344.2,196.45 L344.2,196.95 L347.8,196.95 L347.8,197.95 L351.4,197.95 L351.4,197.95 L355,197.95 L355,196.95 L358.6,196.95 L358.6,196.45 L362.2,196.45 L362.2,195.45 L365.8,195.45 L365.8,194.95 L369.4,194.95 L369.4,194.45 L373,194.45 L373,194.45 L376.6,194.45 L376.6,195.45 L380.2,195.45 L380.2,195.95 L383.8,195.95 L383.8,196.95 L387.4,196.95 L387.4,197.45 L391,197.45 L391,197.95 L394.6,197.95 L394.6,198.95 L398.2,198.95 L398.2,200.45 L401.8,200.45 L401.8,200.45 L405.4,200.45 L405.4,199.95 L409,199.95 L409,197.95 L412.6,197.95 L412.6,196.95 L416.2,196.95 L416.2,195.95 L419.8,195.95 L419.8,194.95 L423.4,194.95 L423.4,193.95 L427,193.95 L427,193.95 L430.6,193.95 L430.6,193.95 L434.2,193.95 L434.2,194.45 L437.8,194.45 L437.8,195.45 L441.4,195.45 L441.4,196.45 L445,196.45 L445,196.95 L448.6,196.95 L448.6,197.45 L452.2,197.45 L452.2,197.95 L455.8,197.95 L455.8,198.45 L459.4,198.45 L459.4,198.95 L463,198.95 L463,197.95 L466.6,197.95 L466.6,196.45 L470.2,196.45 L470.2,196.45 L473.8,196.45 L473.8,196.45 L477.4,196.45 L477.4,195.95 L481,195.95 L481,195.95 L484.6,195.95 L484.6,195.45 L488.2,195.45 L488.2,194.95 L491.8,194.95 L491.8,194.45 L495.4,194.45 L495.4,192.95 L497.6,192.95" fill="none" stroke="#fff" stroke-opacity="0.55" stroke-width="1.0" stroke-linejoin="round"/>
<path d="M301,221.45 L304.6,221.45 L304.6,222.45 L308.2,222.45 L308.2,222.95 L311.8,222.95 L311.8,223.45 L315.4,223.45 L315.4,223.95 L319,223.95 L319,223.95 L322.6,223.95 L322.6,224.45 L326.2,224.45 L326.2,224.45 L329.8,224.45 L329.8,224.45 L333.4,224.45 L333.4,224.45 L337,224.45 L337,223.95 L340.6,223.95 L340.6,223.95 L344.2,223.95 L344.2,223.45 L347.8,223.45 L347.8,222.95 L351.4,222.95 L351.4,222.45 L355,222.45 L355,221.95 L358.6,221.95 L358.6,222.95 L362.2,222.95 L362.2,222.95 L365.8,222.95 L365.8,222.95 L369.4,222.95 L369.4,223.95 L373,223.95 L373,224.95 L376.6,224.95 L376.6,226.45 L380.2,226.45 L380.2,226.45 L383.8,226.45 L383.8,226.45 L387.4,226.45 L387.4,226.95 L391,226.95 L391,226.95 L394.6,226.95 L394.6,226.95 L398.2,226.95 L398.2,226.95 L401.8,226.95 L401.8,226.45 L405.4,226.45 L405.4,225.95 L409,225.95 L409,225.95 L412.6,225.95 L412.6,225.45 L416.2,225.45 L416.2,224.95 L419.8,224.95 L419.8,224.95 L423.4,224.95 L423.4,224.95 L427,224.95 L427,225.45 L430.6,225.45 L430.6,225.95 L434.2,225.95 L434.2,226.45 L437.8,226.45 L437.8,226.45 L441.4,226.45 L441.4,225.45 L445,225.45 L445,225.45 L448.6,225.45 L448.6,225.45 L452.2,225.45 L452.2,226.45 L455.8,226.45 L455.8,226.45 L459.4,226.45 L459.4,226.95 L463,226.95 L463,226.95 L466.6,226.95 L466.6,226.95 L470.2,226.95 L470.2,226.95 L473.8,226.95 L473.8,226.95 L477.4,226.95 L477.4,226.95 L481,226.95 L481,225.95 L484.6,225.95 L484.6,225.45 L488.2,225.45 L488.2,224.95 L491.8,224.95 L491.8,224.95 L495.4,224.95 L495.4,224.95 L497.6,224.95" fill="none" stroke="#fff" stroke-opacity="0.55" stroke-width="1.0" stroke-linejoin="round"/>
<line x1="422.5" y1="44.5" x2="422.5" y2="234" stroke="#000" stroke-width="1" stroke-opacity="0.15"/>
<line x1="300.8" y1="66.55" x2="498" y2="66.55" stroke="#000" stroke-width="1" stroke-opacity="0.6"/>
<line x1="300.8" y1="89.6" x2="498" y2="89.6" stroke="#000" stroke-width="1" stroke-opacity="0.6"/>
<line x1="300.8" y1="113.2" x2="498" y2="113.2" stroke="#000" stroke-width="1" stroke-opacity="0.6"/>
<line x1="300.8" y1="136.5" x2="498" y2="136.5" stroke="#000" stroke-width="1" stroke-opacity="0.6"/>
<line x1="300.8" y1="157.2" x2="498" y2="157.2" stroke="#000" stroke-width="1" stroke-opacity="0.6"/>
<line x1="300.8" y1="180.4" x2="498" y2="180.4" stroke="#000" stroke-width="1" stroke-opacity="0.6"/>
<line x1="300.8" y1="204.2" x2="498" y2="204.2" stroke="#000" stroke-width="1" stroke-opacity="0.6"/>
<rect x="300.8" y="44.5" width="197.2" height="183.9" fill="none" stroke="#111" stroke-width="1.3"/>
<text x="303.7" y="50.8" font-size="6.5" textLength="11.4" lengthAdjust="spacingAndGlyphs">100</text>
<text x="303.3" y="65.45" font-size="6.5">0</text>
<text x="303.7" y="72.85" font-size="6.5" textLength="11.4" lengthAdjust="spacingAndGlyphs">100</text>
<text x="303.3" y="88.5" font-size="6.5">0</text>
<text x="303.7" y="95.9" font-size="6.5" textLength="11.4" lengthAdjust="spacingAndGlyphs">100</text>
<text x="303.3" y="112.1" font-size="6.5">0</text>
<text x="303.7" y="119.5" font-size="6.5" textLength="11.4" lengthAdjust="spacingAndGlyphs">100</text>
<text x="303.3" y="135.4" font-size="6.5">0</text>
<text x="303.7" y="142.8" font-size="6.5" textLength="9.4" lengthAdjust="spacingAndGlyphs">2.5</text>
<text x="303.3" y="157" font-size="6.5">0</text>
<text x="303.7" y="163.5" font-size="6.5" textLength="9.4" lengthAdjust="spacingAndGlyphs">2.5</text>
<text x="303.3" y="180.2" font-size="6.5">0</text>
<text x="303.7" y="186.7" font-size="6.5" textLength="9.4" lengthAdjust="spacingAndGlyphs">2.5</text>
<text x="303.3" y="204" font-size="6.5">0</text>
<text x="303.7" y="210.5" font-size="6.5" textLength="9.4" lengthAdjust="spacingAndGlyphs">2.5</text>
<text x="303.3" y="228.2" font-size="6.5">0</text>
<text x="297.2" y="57.7" font-size="6.7" text-anchor="end" textLength="10.2" lengthAdjust="spacingAndGlyphs">WT</text>
<text x="297.2" y="80.9" font-size="6.7" text-anchor="end" textLength="22" lengthAdjust="spacingAndGlyphs">&#916;E9-10</text>
<text x="297.2" y="105.4" font-size="6.7" text-anchor="end" textLength="17.6" lengthAdjust="spacingAndGlyphs">&#916;Tet2</text>
<text x="297.2" y="130.6" font-size="6.7" text-anchor="end" textLength="13.9" lengthAdjust="spacingAndGlyphs">DKO</text>
<text x="297.2" y="151.7" font-size="6.7" text-anchor="end" textLength="10.2" lengthAdjust="spacingAndGlyphs">WT</text>
<text x="297.2" y="175.2" font-size="6.7" text-anchor="end" textLength="22" lengthAdjust="spacingAndGlyphs">&#916;E9-10</text>
<text x="297.2" y="199.2" font-size="6.7" text-anchor="end" textLength="17.6" lengthAdjust="spacingAndGlyphs">&#916;Tet2</text>
<text x="297.2" y="224" font-size="6.7" text-anchor="end" textLength="13.9" lengthAdjust="spacingAndGlyphs">DKO</text>
<line x1="34.7" y1="49.8" x2="34.7" y2="132" stroke="#111" stroke-width="1.3"/>
<line x1="34.7" y1="141.9" x2="34.7" y2="224.7" stroke="#111" stroke-width="1.3"/>
<text x="28.7" y="111.4" font-size="8.2" textLength="40.5" lengthAdjust="spacingAndGlyphs" transform="rotate(-90 28.7 111.4)">Expression</text>
<text x="30.2" y="208" font-size="8.6" textLength="50.1" lengthAdjust="spacingAndGlyphs" transform="rotate(-90 30.2 208)">H2AK119Ub1</text>
<text x="10.6" y="19.7" font-size="14" textLength="6" lengthAdjust="spacingAndGlyphs">E</text>
<text x="9.9" y="284.4" font-size="13.2" textLength="6" lengthAdjust="spacingAndGlyphs">F</text>
<line x1="189.2" y1="37.6" x2="262.7" y2="37.6" stroke="#111" stroke-width="1.4"/>
<text x="220.3" y="33" font-size="7.2" textLength="11.6" lengthAdjust="spacingAndGlyphs">2kb</text>
<line x1="441.1" y1="37.6" x2="497.9" y2="37.6" stroke="#111" stroke-width="1.4"/>
<text x="463.8" y="33" font-size="7.2" textLength="11.6" lengthAdjust="spacingAndGlyphs">2kb</text>
<rect x="70.1" y="236.1" width="3.2" height="4.6" fill="#000"/>
<rect x="73.1" y="233.5" width="12.2" height="9.5" fill="#000"/>
<line x1="85.3" y1="238.5" x2="122" y2="238.5" stroke="#4a4a4a" stroke-width="0.9"/>
<rect x="122" y="233.5" width="13.4" height="9.5" fill="#000"/>
<rect x="135.4" y="235.4" width="43.4" height="5.8" fill="#000"/>
<path d="M93.8,236.9 L92.4,238.5 L93.8,240.1" stroke="#4060a0" stroke-width="0.7" fill="none"/>
<path d="M108.3,236.9 L106.9,238.5 L108.3,240.1" stroke="#4060a0" stroke-width="0.7" fill="none"/>
<path d="M122,236.9 L120.6,238.5 L122,240.1" stroke="#4060a0" stroke-width="0.7" fill="none"/>
<text x="140.5" y="252.2" font-size="6.6" textLength="19.8" lengthAdjust="spacingAndGlyphs">HoxA7</text>
<rect x="303.9" y="235.8" width="32" height="4.8" fill="#000"/>
<rect x="335.9" y="233.6" width="7" height="9.4" fill="#000"/>
<line x1="342.9" y1="238.5" x2="371.7" y2="238.5" stroke="#4a4a4a" stroke-width="0.9"/>
<rect x="371.7" y="233.6" width="22.9" height="9.4" fill="#000"/>
<rect x="394.6" y="235.8" width="28.3" height="4.8" fill="#000"/>
<path d="M349.4,236.9 L348,238.5 L349.4,240.1" stroke="#4060a0" stroke-width="0.7" fill="none"/>
<path d="M360.1,236.9 L358.7,238.5 L360.1,240.1" stroke="#4060a0" stroke-width="0.7" fill="none"/>
<path d="M371,236.9 L369.6,238.5 L371,240.1" stroke="#4060a0" stroke-width="0.7" fill="none"/>
<path d="M391.4,236.8 L390.0,238.2 L391.4,239.6" stroke="#fff" stroke-width="0.7" fill="none"/>
<text x="387.4" y="252.7" font-size="6.6" textLength="20.1" lengthAdjust="spacingAndGlyphs">HoxA9</text>
<rect x="72.9" y="374.4" width="11.3" height="108" fill="#a3002b"/>
<line x1="78.55" y1="374.4" x2="78.55" y2="364.7" stroke="#111" stroke-width="1.1"/>
<line x1="76.15" y1="365.2" x2="80.95" y2="365.2" stroke="#1a1a1a" stroke-width="1.3" stroke-linecap="round"/>
<rect x="90.2" y="407.9" width="11.4" height="74.5" fill="#a3002b"/>
<line x1="95.9" y1="407.9" x2="95.9" y2="396.3" stroke="#111" stroke-width="1.1"/>
<line x1="93.5" y1="396.8" x2="98.3" y2="396.8" stroke="#1a1a1a" stroke-width="1.3" stroke-linecap="round"/>
<rect x="107.1" y="388.1" width="11.7" height="94.3" fill="#a3002b"/>
<line x1="112.95" y1="388.1" x2="112.95" y2="376.7" stroke="#111" stroke-width="1.1"/>
<line x1="110.55" y1="377.2" x2="115.35" y2="377.2" stroke="#1a1a1a" stroke-width="1.3" stroke-linecap="round"/>
<rect x="124.4" y="419.4" width="11.4" height="63" fill="#a3002b"/>
<line x1="130.1" y1="419.4" x2="130.1" y2="414.4" stroke="#111" stroke-width="1.1"/>
<line x1="127.7" y1="414.9" x2="132.5" y2="414.9" stroke="#1a1a1a" stroke-width="1.3" stroke-linecap="round"/>
<rect x="147.5" y="434.7" width="11.1" height="47.7" fill="#a3002b"/>
<line x1="153.05" y1="434.7" x2="153.05" y2="430.6" stroke="#111" stroke-width="1.1"/>
<line x1="150.65" y1="431.1" x2="155.45" y2="431.1" stroke="#1a1a1a" stroke-width="1.3" stroke-linecap="round"/>
<rect x="164.6" y="459.2" width="11.4" height="23.2" fill="#a3002b"/>
<line x1="170.3" y1="459.2" x2="170.3" y2="458.1" stroke="#111" stroke-width="1.1"/>
<line x1="167.9" y1="458.6" x2="172.7" y2="458.6" stroke="#1a1a1a" stroke-width="1.3" stroke-linecap="round"/>
<rect x="182" y="447.9" width="11" height="34.5" fill="#a3002b"/>
<line x1="187.5" y1="447.9" x2="187.5" y2="446.8" stroke="#111" stroke-width="1.1"/>
<line x1="185.1" y1="447.3" x2="189.9" y2="447.3" stroke="#1a1a1a" stroke-width="1.3" stroke-linecap="round"/>
<rect x="199.3" y="454.2" width="11.1" height="28.2" fill="#a3002b"/>
<line x1="204.85" y1="454.2" x2="204.85" y2="452" stroke="#111" stroke-width="1.1"/>
<line x1="202.45" y1="452.5" x2="207.25" y2="452.5" stroke="#1a1a1a" stroke-width="1.3" stroke-linecap="round"/>
<rect x="221.8" y="368.7" width="11.4" height="113.7" fill="#a3002b"/>
<line x1="227.5" y1="368.7" x2="227.5" y2="359.3" stroke="#111" stroke-width="1.1"/>
<line x1="225.1" y1="359.8" x2="229.9" y2="359.8" stroke="#1a1a1a" stroke-width="1.3" stroke-linecap="round"/>
<rect x="238.9" y="396.4" width="11.8" height="86" fill="#a3002b"/>
<line x1="244.8" y1="396.4" x2="244.8" y2="393.6" stroke="#111" stroke-width="1.1"/>
<line x1="242.4" y1="394.1" x2="247.2" y2="394.1" stroke="#1a1a1a" stroke-width="1.3" stroke-linecap="round"/>
<rect x="256" y="396.7" width="11.8" height="85.7" fill="#a3002b"/>
<line x1="261.9" y1="396.7" x2="261.9" y2="394.6" stroke="#111" stroke-width="1.1"/>
<line x1="259.5" y1="395.1" x2="264.3" y2="395.1" stroke="#1a1a1a" stroke-width="1.3" stroke-linecap="round"/>
<rect x="273.3" y="373" width="11.6" height="109.4" fill="#a3002b"/>
<line x1="279.1" y1="373" x2="279.1" y2="364.7" stroke="#111" stroke-width="1.1"/>
<line x1="276.7" y1="365.2" x2="281.5" y2="365.2" stroke="#1a1a1a" stroke-width="1.3" stroke-linecap="round"/>
<rect x="365.1" y="365.3" width="11.2" height="117.1" fill="#a3002b"/>
<line x1="370.7" y1="365.3" x2="370.7" y2="351.8" stroke="#111" stroke-width="1.1"/>
<line x1="368.3" y1="352.3" x2="373.1" y2="352.3" stroke="#1a1a1a" stroke-width="1.3" stroke-linecap="round"/>
<rect x="382.4" y="398.5" width="11.2" height="83.9" fill="#a3002b"/>
<line x1="388" y1="398.5" x2="388" y2="376" stroke="#111" stroke-width="1.1"/>
<line x1="385.6" y1="376.5" x2="390.4" y2="376.5" stroke="#1a1a1a" stroke-width="1.3" stroke-linecap="round"/>
<rect x="399.3" y="402.9" width="11.3" height="79.5" fill="#a3002b"/>
<line x1="404.95" y1="402.9" x2="404.95" y2="396" stroke="#111" stroke-width="1.1"/>
<line x1="402.55" y1="396.5" x2="407.35" y2="396.5" stroke="#1a1a1a" stroke-width="1.3" stroke-linecap="round"/>
<rect x="416.6" y="421.4" width="11.3" height="61" fill="#a3002b"/>
<line x1="422.25" y1="421.4" x2="422.25" y2="412.4" stroke="#111" stroke-width="1.1"/>
<line x1="419.85" y1="412.9" x2="424.65" y2="412.9" stroke="#1a1a1a" stroke-width="1.3" stroke-linecap="round"/>
<rect x="440.6" y="379.4" width="11.2" height="103" fill="#a3002b"/>
<line x1="446.2" y1="379.4" x2="446.2" y2="372.1" stroke="#111" stroke-width="1.1"/>
<line x1="443.8" y1="372.6" x2="448.6" y2="372.6" stroke="#1a1a1a" stroke-width="1.3" stroke-linecap="round"/>
<rect x="457.9" y="382.5" width="10.9" height="99.9" fill="#a3002b"/>
<line x1="463.35" y1="382.5" x2="463.35" y2="368.7" stroke="#111" stroke-width="1.1"/>
<line x1="460.95" y1="369.2" x2="465.75" y2="369.2" stroke="#1a1a1a" stroke-width="1.3" stroke-linecap="round"/>
<rect x="475.2" y="386.5" width="10.9" height="95.9" fill="#a3002b"/>
<line x1="480.65" y1="386.5" x2="480.65" y2="381.3" stroke="#111" stroke-width="1.1"/>
<line x1="478.25" y1="381.8" x2="483.05" y2="381.8" stroke="#1a1a1a" stroke-width="1.3" stroke-linecap="round"/>
<rect x="492.1" y="374.7" width="11.3" height="107.7" fill="#a3002b"/>
<line x1="497.75" y1="374.7" x2="497.75" y2="367.4" stroke="#111" stroke-width="1.1"/>
<line x1="495.35" y1="367.9" x2="500.15" y2="367.9" stroke="#1a1a1a" stroke-width="1.3" stroke-linecap="round"/>
<line x1="66.3" y1="341.3" x2="66.3" y2="483" stroke="#111" stroke-width="1.3"/>
<line x1="65.7" y1="482.4" x2="287.3" y2="482.4" stroke="#111" stroke-width="1.3"/>
<line x1="62.8" y1="344.2" x2="66.3" y2="344.2" stroke="#111" stroke-width="1.1"/>
<text x="59" y="346.6" font-size="6.6" text-anchor="end">30</text>
<line x1="62.8" y1="390.4" x2="66.3" y2="390.4" stroke="#111" stroke-width="1.1"/>
<text x="59" y="392.8" font-size="6.6" text-anchor="end">20</text>
<line x1="62.8" y1="436.4" x2="66.3" y2="436.4" stroke="#111" stroke-width="1.1"/>
<text x="59" y="438.8" font-size="6.6" text-anchor="end">10</text>
<line x1="62.8" y1="482.4" x2="66.3" y2="482.4" stroke="#111" stroke-width="1.1"/>
<text x="59" y="484.8" font-size="6.6" text-anchor="end">0</text>
<line x1="358.2" y1="341.2" x2="358.2" y2="483" stroke="#111" stroke-width="1.3"/>
<line x1="357.6" y1="482.4" x2="511.8" y2="482.4" stroke="#111" stroke-width="1.3"/>
<line x1="354.7" y1="344.5" x2="358.2" y2="344.5" stroke="#111" stroke-width="1.1"/>
<text x="351.2" y="346.9" font-size="6.6" text-anchor="end">20</text>
<line x1="354.7" y1="378.9" x2="358.2" y2="378.9" stroke="#111" stroke-width="1.1"/>
<text x="351.2" y="381.3" font-size="6.6" text-anchor="end">15</text>
<line x1="354.7" y1="413.3" x2="358.2" y2="413.3" stroke="#111" stroke-width="1.1"/>
<text x="351.2" y="415.7" font-size="6.6" text-anchor="end">10</text>
<line x1="354.7" y1="447.6" x2="358.2" y2="447.6" stroke="#111" stroke-width="1.1"/>
<text x="351.2" y="450" font-size="6.6" text-anchor="end">5</text>
<line x1="354.7" y1="482" x2="358.2" y2="482" stroke="#111" stroke-width="1.1"/>
<text x="351.2" y="484.4" font-size="6.6" text-anchor="end">0</text>
<line x1="78.55" y1="482.4" x2="78.55" y2="485.9" stroke="#1a1a1a" stroke-width="1.3"/>
<text x="81.75" y="489.6" font-size="7" text-anchor="end" textLength="10.2" lengthAdjust="spacingAndGlyphs" transform="rotate(-90 81.75 489.6)">WT</text>
<line x1="95.9" y1="482.4" x2="95.9" y2="485.9" stroke="#1a1a1a" stroke-width="1.3"/>
<text x="99.1" y="489.6" font-size="7" text-anchor="end" textLength="22.2" lengthAdjust="spacingAndGlyphs" transform="rotate(-90 99.1 489.6)">&#916;E9-10</text>
<line x1="112.95" y1="482.4" x2="112.95" y2="485.9" stroke="#1a1a1a" stroke-width="1.3"/>
<text x="116.15" y="489.6" font-size="7" text-anchor="end" textLength="17.6" lengthAdjust="spacingAndGlyphs" transform="rotate(-90 116.15 489.6)">&#916;Tet2</text>
<line x1="130.1" y1="482.4" x2="130.1" y2="485.9" stroke="#1a1a1a" stroke-width="1.3"/>
<text x="133.3" y="489.6" font-size="7" text-anchor="end" textLength="13.3" lengthAdjust="spacingAndGlyphs" transform="rotate(-90 133.3 489.6)">DKO</text>
<line x1="153.05" y1="482.4" x2="153.05" y2="485.9" stroke="#1a1a1a" stroke-width="1.3"/>
<text x="156.25" y="489.6" font-size="7" text-anchor="end" textLength="10.2" lengthAdjust="spacingAndGlyphs" transform="rotate(-90 156.25 489.6)">WT</text>
<line x1="170.3" y1="482.4" x2="170.3" y2="485.9" stroke="#1a1a1a" stroke-width="1.3"/>
<text x="173.5" y="489.6" font-size="7" text-anchor="end" textLength="22.2" lengthAdjust="spacingAndGlyphs" transform="rotate(-90 173.5 489.6)">&#916;E9-10</text>
<line x1="187.5" y1="482.4" x2="187.5" y2="485.9" stroke="#1a1a1a" stroke-width="1.3"/>
<text x="190.7" y="489.6" font-size="7" text-anchor="end" textLength="17.6" lengthAdjust="spacingAndGlyphs" transform="rotate(-90 190.7 489.6)">&#916;Tet2</text>
<line x1="204.85" y1="482.4" x2="204.85" y2="485.9" stroke="#1a1a1a" stroke-width="1.3"/>
<text x="208.05" y="489.6" font-size="7" text-anchor="end" textLength="13.3" lengthAdjust="spacingAndGlyphs" transform="rotate(-90 208.05 489.6)">DKO</text>
<line x1="227.5" y1="482.4" x2="227.5" y2="485.9" stroke="#1a1a1a" stroke-width="1.3"/>
<text x="230.7" y="489.6" font-size="7" text-anchor="end" textLength="10.2" lengthAdjust="spacingAndGlyphs" transform="rotate(-90 230.7 489.6)">WT</text>
<line x1="244.8" y1="482.4" x2="244.8" y2="485.9" stroke="#1a1a1a" stroke-width="1.3"/>
<text x="248" y="489.6" font-size="7" text-anchor="end" textLength="22.2" lengthAdjust="spacingAndGlyphs" transform="rotate(-90 248 489.6)">&#916;E9-10</text>
<line x1="261.9" y1="482.4" x2="261.9" y2="485.9" stroke="#1a1a1a" stroke-width="1.3"/>
<text x="265.1" y="489.6" font-size="7" text-anchor="end" textLength="17.6" lengthAdjust="spacingAndGlyphs" transform="rotate(-90 265.1 489.6)">&#916;Tet2</text>
<line x1="279.1" y1="482.4" x2="279.1" y2="485.9" stroke="#1a1a1a" stroke-width="1.3"/>
<text x="282.3" y="489.6" font-size="7" text-anchor="end" textLength="13.3" lengthAdjust="spacingAndGlyphs" transform="rotate(-90 282.3 489.6)">DKO</text>
<line x1="370.7" y1="482.4" x2="370.7" y2="485.9" stroke="#1a1a1a" stroke-width="1.3"/>
<text x="373.9" y="489.6" font-size="7" text-anchor="end" textLength="10.2" lengthAdjust="spacingAndGlyphs" transform="rotate(-90 373.9 489.6)">WT</text>
<line x1="388" y1="482.4" x2="388" y2="485.9" stroke="#1a1a1a" stroke-width="1.3"/>
<text x="391.2" y="489.6" font-size="7" text-anchor="end" textLength="22.2" lengthAdjust="spacingAndGlyphs" transform="rotate(-90 391.2 489.6)">&#916;E9-10</text>
<line x1="404.95" y1="482.4" x2="404.95" y2="485.9" stroke="#1a1a1a" stroke-width="1.3"/>
<text x="408.15" y="489.6" font-size="7" text-anchor="end" textLength="17.6" lengthAdjust="spacingAndGlyphs" transform="rotate(-90 408.15 489.6)">&#916;Tet2</text>
<line x1="422.25" y1="482.4" x2="422.25" y2="485.9" stroke="#1a1a1a" stroke-width="1.3"/>
<text x="425.45" y="489.6" font-size="7" text-anchor="end" textLength="13.3" lengthAdjust="spacingAndGlyphs" transform="rotate(-90 425.45 489.6)">DKO</text>
<line x1="446.2" y1="482.4" x2="446.2" y2="485.9" stroke="#1a1a1a" stroke-width="1.3"/>
<text x="449.4" y="489.6" font-size="7" text-anchor="end" textLength="10.2" lengthAdjust="spacingAndGlyphs" transform="rotate(-90 449.4 489.6)">WT</text>
<line x1="463.35" y1="482.4" x2="463.35" y2="485.9" stroke="#1a1a1a" stroke-width="1.3"/>
<text x="466.55" y="489.6" font-size="7" text-anchor="end" textLength="22.2" lengthAdjust="spacingAndGlyphs" transform="rotate(-90 466.55 489.6)">&#916;E9-10</text>
<line x1="480.65" y1="482.4" x2="480.65" y2="485.9" stroke="#1a1a1a" stroke-width="1.3"/>
<text x="483.85" y="489.6" font-size="7" text-anchor="end" textLength="17.6" lengthAdjust="spacingAndGlyphs" transform="rotate(-90 483.85 489.6)">&#916;Tet2</text>
<line x1="497.75" y1="482.4" x2="497.75" y2="485.9" stroke="#1a1a1a" stroke-width="1.3"/>
<text x="500.95" y="489.6" font-size="7" text-anchor="end" textLength="13.3" lengthAdjust="spacingAndGlyphs" transform="rotate(-90 500.95 489.6)">DKO</text>
<line x1="74.2" y1="516.8" x2="131.7" y2="516.8" stroke="#333" stroke-width="1.2"/>
<line x1="143.3" y1="516.8" x2="209.7" y2="516.8" stroke="#333" stroke-width="1.2"/>
<line x1="219.5" y1="516.8" x2="286.6" y2="516.8" stroke="#333" stroke-width="1.2"/>
<line x1="363.7" y1="516.8" x2="430.7" y2="516.8" stroke="#333" stroke-width="1.2"/>
<line x1="439.9" y1="516.8" x2="507.2" y2="516.8" stroke="#333" stroke-width="1.2"/>
<text x="93.6" y="527" font-size="6.6" textLength="18.7" lengthAdjust="spacingAndGlyphs">-1,475</text>
<text x="169" y="527" font-size="6.6" textLength="14.6" lengthAdjust="spacingAndGlyphs">+921</text>
<text x="242.5" y="527" font-size="6.6" textLength="21.1" lengthAdjust="spacingAndGlyphs">+1,695</text>
<text x="274.9" y="527" font-size="6.6" textLength="12.1" lengthAdjust="spacingAndGlyphs">(bp)</text>
<text x="389.9" y="527" font-size="6.6" textLength="14" lengthAdjust="spacingAndGlyphs">-400</text>
<text x="462.7" y="527" font-size="6.6" textLength="20.3" lengthAdjust="spacingAndGlyphs">-1,800</text>
<text x="491.8" y="527" font-size="6.6" textLength="12.5" lengthAdjust="spacingAndGlyphs">(bp)</text>
<text x="44.4" y="428" font-size="8.6" textLength="32.4" lengthAdjust="spacingAndGlyphs" transform="rotate(-90 44.4 428)">% input</text>
<text x="336.9" y="426.2" font-size="8.6" textLength="32" lengthAdjust="spacingAndGlyphs" transform="rotate(-90 336.9 426.2)">% input</text>
<text x="148.2" y="299.4" font-size="8.8" textLength="57.6" lengthAdjust="spacingAndGlyphs">Hoxa9 in GMP</text>
<text x="407.8" y="299.4" font-size="8.8" textLength="53.6" lengthAdjust="spacingAndGlyphs">Cebpa in LSK</text>
<path d="M78.5,339.2 L78.5,332.6 L130.1,332.6 L130.1,409.2" fill="none" stroke="#2a2a2a" stroke-width="1.25"/>
<circle cx="102.95" cy="328.3" r="1.0" fill="#2a2a2a"/>
<circle cx="106.25" cy="328.3" r="1.0" fill="#2a2a2a"/>
<path d="M78.5,359.1 L78.5,354.6 L95.8,354.6 L95.8,385.9" fill="none" stroke="#2a2a2a" stroke-width="1.25"/>
<text x="80.8" y="351.1" font-size="6.9" textLength="12.9" lengthAdjust="spacingAndGlyphs">0.07</text>
<path d="M113,371.3 L113,360.3 L127.2,360.3 L127.2,409.2" fill="none" stroke="#2a2a2a" stroke-width="1.25"/>
<circle cx="120" cy="355.7" r="1.0" fill="#2a2a2a"/>
<path d="M152.4,387.4 L152.4,380.5 L204.3,380.5 L204.3,441.8" fill="none" stroke="#2a2a2a" stroke-width="1.25"/>
<circle cx="176.85" cy="376.5" r="1.0" fill="#2a2a2a"/>
<circle cx="180.15" cy="376.5" r="1.0" fill="#2a2a2a"/>
<path d="M152.4,403.5 L152.4,396.9 L187.2,396.9 L187.2,439.2" fill="none" stroke="#2a2a2a" stroke-width="1.25"/>
<circle cx="170" cy="392.5" r="1.0" fill="#2a2a2a"/>
<path d="M152.4,422.3 L152.4,417.7 L169.8,417.7 L169.8,451.2" fill="none" stroke="#2a2a2a" stroke-width="1.25"/>
<circle cx="159.35" cy="413" r="1.0" fill="#2a2a2a"/>
<circle cx="162.65" cy="413" r="1.0" fill="#2a2a2a"/>
<path d="M370.4,325.5 L370.4,314.7 L422.2,314.7 L422.2,406.7" fill="none" stroke="#2a2a2a" stroke-width="1.25"/>
<circle cx="396.2" cy="309.9" r="1.0" fill="#2a2a2a"/>
<path d="M373.2,325.5 L373.2,319.4 L404.2,319.4 L404.2,383.5" fill="none" stroke="#2a2a2a" stroke-width="1.25"/>
<circle cx="389" cy="325.8" r="1.0" fill="#2a2a2a"/>
<path d="M369.4,347 L369.4,342.4 L386.4,342.4 L386.4,367" fill="none" stroke="#2a2a2a" stroke-width="1.25"/>
<text x="372" y="339.1" font-size="6.9" textLength="13" lengthAdjust="spacingAndGlyphs">0.24</text>
<rect x="0.6" y="0.6" width="518.6" height="535.6" fill="none" stroke="#111" stroke-width="1.6"/>
</svg>
</body></html>
